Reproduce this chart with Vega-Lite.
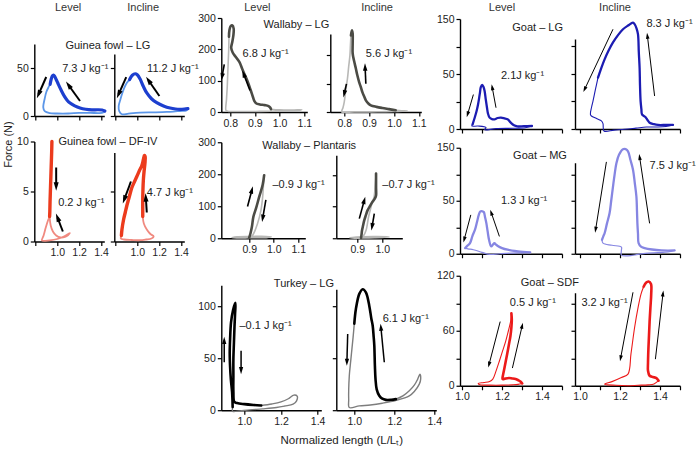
{
"$schema": "https://vega.github.io/schema/vega-lite/v6.json",
"padding": {"left": 2, "top": 1, "right": 2, "bottom": 2},
"background": "white",
"config": {
  "font": "Liberation Sans",
  "view": {"stroke": null},
  "axis": {"grid": false, "domainColor": "#000", "domainWidth": 1.4, "tickColor": "#000", "tickWidth": 1.2, "tickSize": 4, "labelFontSize": 10.5, "labelColor": "#222", "labelFont": "Liberation Sans", "titleFont": "Liberation Sans", "titleFontWeight": "normal", "titleFontSize": 11, "titleColor": "#222", "labelPadding": 2, "labelFlush": false, "labelOverlap": false},
  "text": {"font": "Liberation Sans", "fontSize": 11, "color": "#222"},
  "line": {"interpolate": "catmull-rom", "strokeCap": "round", "strokeJoin": "round"}
},
"datasets": {
"curves": [
{"p":"A1","s":"a","i":0,"x":0.935,"y":33},{"p":"A1","s":"a","i":1,"x":0.945,"y":38.5},{"p":"A1","s":"a","i":2,"x":0.955,"y":41.8},{"p":"A1","s":"a","i":3,"x":0.965,"y":42.7},{"p":"A1","s":"a","i":4,"x":0.975,"y":41.5},{"p":"A1","s":"a","i":5,"x":0.99,"y":38},{"p":"A1","s":"a","i":6,"x":1.01,"y":33},{"p":"A1","s":"a","i":7,"x":1.035,"y":27},{"p":"A1","s":"a","i":8,"x":1.063,"y":21},{"p":"A1","s":"a","i":9,"x":1.09,"y":16.5},{"p":"A1","s":"a","i":10,"x":1.117,"y":13.5},{"p":"A1","s":"a","i":11,"x":1.16,"y":10.5},{"p":"A1","s":"a","i":12,"x":1.208,"y":8.3},{"p":"A1","s":"a","i":13,"x":1.26,"y":7},{"p":"A1","s":"a","i":14,"x":1.317,"y":6.4},{"p":"A1","s":"a","i":15,"x":1.37,"y":6.5},{"p":"A1","s":"a","i":16,"x":1.41,"y":6.2},{"p":"A1","s":"a","i":17,"x":1.435,"y":5.2},
{"p":"A1","s":"b","i":0,"x":1.435,"y":5.2},{"p":"A1","s":"b","i":1,"x":1.42,"y":3.6},{"p":"A1","s":"b","i":2,"x":1.38,"y":3},{"p":"A1","s":"b","i":3,"x":1.3,"y":3.3},{"p":"A1","s":"b","i":4,"x":1.2,"y":3.2},{"p":"A1","s":"b","i":5,"x":1.1,"y":2.6},{"p":"A1","s":"b","i":6,"x":1.0,"y":2.6},{"p":"A1","s":"b","i":7,"x":0.93,"y":3},{"p":"A1","s":"b","i":8,"x":0.885,"y":5},{"p":"A1","s":"b","i":9,"x":0.872,"y":9},{"p":"A1","s":"b","i":10,"x":0.885,"y":18},{"p":"A1","s":"b","i":11,"x":0.9,"y":25},{"p":"A1","s":"b","i":12,"x":0.92,"y":30},{"p":"A1","s":"b","i":13,"x":0.935,"y":33},
{"p":"A2","s":"a","i":0,"x":0.93,"y":38},{"p":"A2","s":"a","i":1,"x":0.955,"y":42.5},{"p":"A2","s":"a","i":2,"x":0.981,"y":44},{"p":"A2","s":"a","i":3,"x":1.0,"y":43},{"p":"A2","s":"a","i":4,"x":1.026,"y":38.5},{"p":"A2","s":"a","i":5,"x":1.055,"y":31},{"p":"A2","s":"a","i":6,"x":1.087,"y":24},{"p":"A2","s":"a","i":7,"x":1.13,"y":18},{"p":"A2","s":"a","i":8,"x":1.178,"y":13.9},{"p":"A2","s":"a","i":9,"x":1.24,"y":10.5},{"p":"A2","s":"a","i":10,"x":1.3,"y":8.3},{"p":"A2","s":"a","i":11,"x":1.35,"y":7.3},{"p":"A2","s":"a","i":12,"x":1.39,"y":7},{"p":"A2","s":"a","i":13,"x":1.43,"y":7.2},{"p":"A2","s":"a","i":14,"x":1.463,"y":7.6},
{"p":"A2","s":"b","i":0,"x":1.463,"y":7.6},{"p":"A2","s":"b","i":1,"x":1.45,"y":5.8},{"p":"A2","s":"b","i":2,"x":1.39,"y":5.2},{"p":"A2","s":"b","i":3,"x":1.33,"y":4.6},{"p":"A2","s":"b","i":4,"x":1.27,"y":4.2},{"p":"A2","s":"b","i":5,"x":1.15,"y":3.8},{"p":"A2","s":"b","i":6,"x":1.026,"y":3.5},{"p":"A2","s":"b","i":7,"x":0.92,"y":2.5},{"p":"A2","s":"b","i":8,"x":0.86,"y":1.8},{"p":"A2","s":"b","i":9,"x":0.835,"y":5},{"p":"A2","s":"b","i":10,"x":0.83,"y":10.4},{"p":"A2","s":"b","i":11,"x":0.845,"y":17},{"p":"A2","s":"b","i":12,"x":0.86,"y":22.6},{"p":"A2","s":"b","i":13,"x":0.88,"y":29},{"p":"A2","s":"b","i":14,"x":0.905,"y":34.7},{"p":"A2","s":"b","i":15,"x":0.93,"y":38},
{"p":"B1","s":"a","i":0,"x":0.951,"y":10},{"p":"B1","s":"a","i":1,"x":0.949,"y":9},{"p":"B1","s":"a","i":2,"x":0.946,"y":8},{"p":"B1","s":"a","i":3,"x":0.943,"y":7},{"p":"B1","s":"a","i":4,"x":0.94,"y":6},{"p":"B1","s":"a","i":5,"x":0.937,"y":5},{"p":"B1","s":"a","i":6,"x":0.934,"y":4},{"p":"B1","s":"a","i":7,"x":0.932,"y":3},{"p":"B1","s":"a","i":8,"x":0.93,"y":2.5},
{"p":"B1","s":"b","i":0,"x":0.93,"y":2.5},{"p":"B1","s":"b","i":1,"x":0.94,"y":1.6},{"p":"B1","s":"b","i":2,"x":0.96,"y":1.0},{"p":"B1","s":"b","i":3,"x":0.99,"y":0.6},{"p":"B1","s":"b","i":4,"x":1.03,"y":0.4},{"p":"B1","s":"b","i":5,"x":1.07,"y":0.45},{"p":"B1","s":"b","i":6,"x":1.1,"y":0.65},{"p":"B1","s":"b","i":7,"x":1.115,"y":0.85},{"p":"B1","s":"b","i":8,"x":1.1,"y":0.75},{"p":"B1","s":"b","i":9,"x":1.06,"y":0.5},{"p":"B1","s":"b","i":10,"x":1.0,"y":0.25},{"p":"B1","s":"b","i":11,"x":0.93,"y":0.12},{"p":"B1","s":"b","i":12,"x":0.86,"y":0.1},{"p":"B1","s":"b","i":13,"x":0.875,"y":0.6},{"p":"B1","s":"b","i":14,"x":0.895,"y":1.4},{"p":"B1","s":"b","i":15,"x":0.915,"y":2.1},{"p":"B1","s":"b","i":16,"x":0.93,"y":2.5},
{"p":"B2","s":"a","i":0,"x":0.855,"y":0.6},{"p":"B2","s":"a","i":1,"x":0.86,"y":1.2},{"p":"B2","s":"a","i":2,"x":0.875,"y":2.2},{"p":"B2","s":"a","i":3,"x":0.89,"y":2.9},{"p":"B2","s":"a","i":4,"x":0.905,"y":3.6},{"p":"B2","s":"a","i":5,"x":0.92,"y":4.2},{"p":"B2","s":"a","i":6,"x":0.935,"y":4.8},{"p":"B2","s":"a","i":7,"x":0.951,"y":5.4},{"p":"B2","s":"a","i":8,"x":0.975,"y":6.0},{"p":"B2","s":"a","i":9,"x":0.996,"y":6.5},{"p":"B2","s":"a","i":10,"x":1.02,"y":7.1},{"p":"B2","s":"a","i":11,"x":1.042,"y":7.6},{"p":"B2","s":"a","i":12,"x":1.056,"y":8.2},{"p":"B2","s":"a","i":13,"x":1.065,"y":8.6},{"p":"B2","s":"a","i":14,"x":1.072,"y":8.5},{"p":"B2","s":"a","i":15,"x":1.07,"y":7.8},{"p":"B2","s":"a","i":16,"x":1.062,"y":7.0},{"p":"B2","s":"a","i":17,"x":1.056,"y":6.2},{"p":"B2","s":"a","i":18,"x":1.052,"y":5.2},{"p":"B2","s":"a","i":19,"x":1.05,"y":4.2},{"p":"B2","s":"a","i":20,"x":1.05,"y":3.3},{"p":"B2","s":"a","i":21,"x":1.05,"y":2.5},
{"p":"B2","s":"b","i":0,"x":1.05,"y":2.5},{"p":"B2","s":"b","i":1,"x":1.06,"y":1.8},{"p":"B2","s":"b","i":2,"x":1.087,"y":1.2},{"p":"B2","s":"b","i":3,"x":1.12,"y":0.75},{"p":"B2","s":"b","i":4,"x":1.15,"y":0.5},{"p":"B2","s":"b","i":5,"x":1.13,"y":0.3},{"p":"B2","s":"b","i":6,"x":1.08,"y":0.2},{"p":"B2","s":"b","i":7,"x":1.026,"y":0.13},{"p":"B2","s":"b","i":8,"x":0.95,"y":0.15},{"p":"B2","s":"b","i":9,"x":0.88,"y":0.2},{"p":"B2","s":"b","i":10,"x":0.85,"y":0.3},{"p":"B2","s":"b","i":11,"x":0.855,"y":0.6},
{"p":"C1","s":"a","i":0,"x":0.795,"y":240},{"p":"C1","s":"a","i":1,"x":0.797,"y":262},{"p":"C1","s":"a","i":2,"x":0.802,"y":274},{"p":"C1","s":"a","i":3,"x":0.809,"y":276},{"p":"C1","s":"a","i":4,"x":0.814,"y":266},{"p":"C1","s":"a","i":5,"x":0.813,"y":245},{"p":"C1","s":"a","i":6,"x":0.808,"y":222},{"p":"C1","s":"a","i":7,"x":0.804,"y":205},{"p":"C1","s":"a","i":8,"x":0.81,"y":190},{"p":"C1","s":"a","i":9,"x":0.822,"y":176},{"p":"C1","s":"a","i":10,"x":0.837,"y":160},{"p":"C1","s":"a","i":11,"x":0.85,"y":135},{"p":"C1","s":"a","i":12,"x":0.864,"y":110},{"p":"C1","s":"a","i":13,"x":0.875,"y":88},{"p":"C1","s":"a","i":14,"x":0.884,"y":67},{"p":"C1","s":"a","i":15,"x":0.892,"y":48},{"p":"C1","s":"a","i":16,"x":0.898,"y":35},{"p":"C1","s":"a","i":17,"x":0.906,"y":27},{"p":"C1","s":"a","i":18,"x":0.92,"y":24},{"p":"C1","s":"a","i":19,"x":0.94,"y":22},{"p":"C1","s":"a","i":20,"x":0.955,"y":19},{"p":"C1","s":"a","i":21,"x":0.962,"y":14},{"p":"C1","s":"a","i":22,"x":0.965,"y":9},
{"p":"C1","s":"b","i":0,"x":0.965,"y":9},{"p":"C1","s":"b","i":1,"x":1.0,"y":7},{"p":"C1","s":"b","i":2,"x":1.05,"y":6.5},{"p":"C1","s":"b","i":3,"x":1.09,"y":7.5},{"p":"C1","s":"b","i":4,"x":1.07,"y":4},{"p":"C1","s":"b","i":5,"x":1.0,"y":3},{"p":"C1","s":"b","i":6,"x":0.92,"y":2},{"p":"C1","s":"b","i":7,"x":0.85,"y":1.5},{"p":"C1","s":"b","i":8,"x":0.79,"y":2.5},{"p":"C1","s":"b","i":9,"x":0.783,"y":5},{"p":"C1","s":"b","i":10,"x":0.785,"y":40},{"p":"C1","s":"b","i":11,"x":0.788,"y":80},{"p":"C1","s":"b","i":12,"x":0.79,"y":120},{"p":"C1","s":"b","i":13,"x":0.792,"y":160},{"p":"C1","s":"b","i":14,"x":0.794,"y":200},{"p":"C1","s":"b","i":15,"x":0.795,"y":240},
{"p":"C2","s":"a","i":0,"x":0.827,"y":269},{"p":"C2","s":"a","i":1,"x":0.831,"y":287},{"p":"C2","s":"a","i":2,"x":0.834,"y":275},{"p":"C2","s":"a","i":3,"x":0.834,"y":240},{"p":"C2","s":"a","i":4,"x":0.834,"y":205},{"p":"C2","s":"a","i":5,"x":0.84,"y":178},{"p":"C2","s":"a","i":6,"x":0.847,"y":152},{"p":"C2","s":"a","i":7,"x":0.853,"y":128},{"p":"C2","s":"a","i":8,"x":0.86,"y":105},{"p":"C2","s":"a","i":9,"x":0.867,"y":87},{"p":"C2","s":"a","i":10,"x":0.873,"y":70},{"p":"C2","s":"a","i":11,"x":0.88,"y":55},{"p":"C2","s":"a","i":12,"x":0.887,"y":41},{"p":"C2","s":"a","i":13,"x":0.897,"y":30},{"p":"C2","s":"a","i":14,"x":0.907,"y":23.5},{"p":"C2","s":"a","i":15,"x":0.93,"y":18},{"p":"C2","s":"a","i":16,"x":0.953,"y":14},{"p":"C2","s":"a","i":17,"x":0.98,"y":10},{"p":"C2","s":"a","i":18,"x":1.007,"y":6},
{"p":"C2","s":"b","i":0,"x":1.007,"y":6},{"p":"C2","s":"b","i":1,"x":1.03,"y":4.5},{"p":"C2","s":"b","i":2,"x":1.053,"y":3.5},{"p":"C2","s":"b","i":3,"x":1.0,"y":2},{"p":"C2","s":"b","i":4,"x":0.95,"y":1},{"p":"C2","s":"b","i":5,"x":0.9,"y":0.5},{"p":"C2","s":"b","i":6,"x":0.84,"y":0.5},{"p":"C2","s":"b","i":7,"x":0.79,"y":0},{"p":"C2","s":"b","i":8,"x":0.795,"y":15},{"p":"C2","s":"b","i":9,"x":0.8,"y":35},{"p":"C2","s":"b","i":10,"x":0.806,"y":75},{"p":"C2","s":"b","i":11,"x":0.813,"y":117},{"p":"C2","s":"b","i":12,"x":0.818,"y":160},{"p":"C2","s":"b","i":13,"x":0.823,"y":199},{"p":"C2","s":"b","i":14,"x":0.825,"y":235},{"p":"C2","s":"b","i":15,"x":0.827,"y":269},
{"p":"D1","s":"a","i":0,"x":0.9,"y":2},{"p":"D1","s":"a","i":1,"x":0.905,"y":15},{"p":"D1","s":"a","i":2,"x":0.911,"y":36},{"p":"D1","s":"a","i":3,"x":0.917,"y":67},{"p":"D1","s":"a","i":4,"x":0.928,"y":94},{"p":"D1","s":"a","i":5,"x":0.941,"y":130},{"p":"D1","s":"a","i":6,"x":0.955,"y":167},{"p":"D1","s":"a","i":7,"x":0.961,"y":197},
{"p":"D1","s":"b","i":0,"x":0.961,"y":197},{"p":"D1","s":"b","i":1,"x":0.958,"y":165},{"p":"D1","s":"b","i":2,"x":0.955,"y":130},{"p":"D1","s":"b","i":3,"x":0.948,"y":88},{"p":"D1","s":"b","i":4,"x":0.934,"y":46},{"p":"D1","s":"b","i":5,"x":0.914,"y":9.5},{"p":"D1","s":"b","i":6,"x":0.9,"y":2},{"p":"D1","s":"b","i":7,"x":0.87,"y":1},{"p":"D1","s":"b","i":8,"x":0.83,"y":2},{"p":"D1","s":"b","i":9,"x":0.85,"y":4.5},{"p":"D1","s":"b","i":10,"x":0.9,"y":5.5},{"p":"D1","s":"b","i":11,"x":0.95,"y":6},{"p":"D1","s":"b","i":12,"x":0.99,"y":4.5},{"p":"D1","s":"b","i":13,"x":0.97,"y":2},{"p":"D1","s":"b","i":14,"x":0.92,"y":1.5},{"p":"D1","s":"b","i":15,"x":0.9,"y":2},
{"p":"D2","s":"a","i":0,"x":0.915,"y":1},{"p":"D2","s":"a","i":1,"x":0.917,"y":12},{"p":"D2","s":"a","i":2,"x":0.919,"y":25},{"p":"D2","s":"a","i":3,"x":0.923,"y":40},{"p":"D2","s":"a","i":4,"x":0.928,"y":57},{"p":"D2","s":"a","i":5,"x":0.934,"y":72},{"p":"D2","s":"a","i":6,"x":0.941,"y":88},{"p":"D2","s":"a","i":7,"x":0.951,"y":102},{"p":"D2","s":"a","i":8,"x":0.961,"y":115},{"p":"D2","s":"a","i":9,"x":0.97,"y":125},{"p":"D2","s":"a","i":10,"x":0.975,"y":135},{"p":"D2","s":"a","i":11,"x":0.975,"y":160},{"p":"D2","s":"a","i":12,"x":0.975,"y":185},{"p":"D2","s":"a","i":13,"x":0.975,"y":204},
{"p":"D2","s":"b","i":0,"x":0.975,"y":204},{"p":"D2","s":"b","i":1,"x":0.972,"y":170},{"p":"D2","s":"b","i":2,"x":0.967,"y":130},{"p":"D2","s":"b","i":3,"x":0.96,"y":115},{"p":"D2","s":"b","i":4,"x":0.955,"y":99},{"p":"D2","s":"b","i":5,"x":0.945,"y":67},{"p":"D2","s":"b","i":6,"x":0.935,"y":25},{"p":"D2","s":"b","i":7,"x":0.925,"y":8},{"p":"D2","s":"b","i":8,"x":0.915,"y":1},{"p":"D2","s":"b","i":9,"x":0.87,"y":2},{"p":"D2","s":"b","i":10,"x":0.92,"y":4.5},{"p":"D2","s":"b","i":11,"x":0.98,"y":5},{"p":"D2","s":"b","i":12,"x":1.028,"y":4},{"p":"D2","s":"b","i":13,"x":0.97,"y":2},{"p":"D2","s":"b","i":14,"x":0.915,"y":1},
{"p":"E1","s":"a","i":0,"x":0.936,"y":3},{"p":"E1","s":"a","i":1,"x":0.933,"y":17},{"p":"E1","s":"a","i":2,"x":0.926,"y":30},{"p":"E1","s":"a","i":3,"x":0.922,"y":42},{"p":"E1","s":"a","i":4,"x":0.92,"y":55},{"p":"E1","s":"a","i":5,"x":0.922,"y":68},{"p":"E1","s":"a","i":6,"x":0.927,"y":84},{"p":"E1","s":"a","i":7,"x":0.938,"y":96},{"p":"E1","s":"a","i":8,"x":0.951,"y":103},{"p":"E1","s":"a","i":9,"x":0.949,"y":92},{"p":"E1","s":"a","i":10,"x":0.946,"y":80},{"p":"E1","s":"a","i":11,"x":0.943,"y":65},{"p":"E1","s":"a","i":12,"x":0.94,"y":49},{"p":"E1","s":"a","i":13,"x":0.94,"y":33},{"p":"E1","s":"a","i":14,"x":0.94,"y":18},{"p":"E1","s":"a","i":15,"x":0.945,"y":8},{"p":"E1","s":"a","i":16,"x":0.96,"y":6.8},{"p":"E1","s":"a","i":17,"x":1.0,"y":5.8},{"p":"E1","s":"a","i":18,"x":1.05,"y":5},{"p":"E1","s":"a","i":19,"x":1.092,"y":4.5},
{"p":"E1","s":"b","i":0,"x":1.092,"y":4.5},{"p":"E1","s":"b","i":1,"x":1.15,"y":6},{"p":"E1","s":"b","i":2,"x":1.2,"y":8},{"p":"E1","s":"b","i":3,"x":1.24,"y":11},{"p":"E1","s":"b","i":4,"x":1.27,"y":14.5},{"p":"E1","s":"b","i":5,"x":1.288,"y":13.5},{"p":"E1","s":"b","i":6,"x":1.285,"y":9},{"p":"E1","s":"b","i":7,"x":1.266,"y":5.8},{"p":"E1","s":"b","i":8,"x":1.22,"y":4},{"p":"E1","s":"b","i":9,"x":1.175,"y":2.6},{"p":"E1","s":"b","i":10,"x":1.1,"y":1.3},{"p":"E1","s":"b","i":11,"x":1.028,"y":0.3},{"p":"E1","s":"b","i":12,"x":0.96,"y":-1},{"p":"E1","s":"b","i":13,"x":0.936,"y":-1},{"p":"E1","s":"b","i":14,"x":0.936,"y":3},
{"p":"E2","s":"a","i":0,"x":1.0,"y":83},{"p":"E2","s":"a","i":1,"x":1.008,"y":97},{"p":"E2","s":"a","i":2,"x":1.025,"y":111.5},{"p":"E2","s":"a","i":3,"x":1.042,"y":116},{"p":"E2","s":"a","i":4,"x":1.058,"y":113},{"p":"E2","s":"a","i":5,"x":1.075,"y":100},{"p":"E2","s":"a","i":6,"x":1.085,"y":88},{"p":"E2","s":"a","i":7,"x":1.092,"y":81},{"p":"E2","s":"a","i":8,"x":1.097,"y":70},{"p":"E2","s":"a","i":9,"x":1.1,"y":62},{"p":"E2","s":"a","i":10,"x":1.103,"y":42.6},{"p":"E2","s":"a","i":11,"x":1.106,"y":30},{"p":"E2","s":"a","i":12,"x":1.112,"y":20},{"p":"E2","s":"a","i":13,"x":1.125,"y":13.8},{"p":"E2","s":"a","i":14,"x":1.14,"y":11},{"p":"E2","s":"a","i":15,"x":1.158,"y":9.9},{"p":"E2","s":"a","i":16,"x":1.185,"y":10},{"p":"E2","s":"a","i":17,"x":1.208,"y":10.6},
{"p":"E2","s":"b","i":0,"x":1.208,"y":10.6},{"p":"E2","s":"b","i":1,"x":1.245,"y":14},{"p":"E2","s":"b","i":2,"x":1.275,"y":18.6},{"p":"E2","s":"b","i":3,"x":1.3,"y":24},{"p":"E2","s":"b","i":4,"x":1.317,"y":29.8},{"p":"E2","s":"b","i":5,"x":1.328,"y":34.6},{"p":"E2","s":"b","i":6,"x":1.332,"y":30},{"p":"E2","s":"b","i":7,"x":1.325,"y":25},{"p":"E2","s":"b","i":8,"x":1.3,"y":18},{"p":"E2","s":"b","i":9,"x":1.275,"y":13.8},{"p":"E2","s":"b","i":10,"x":1.21,"y":9.5},{"p":"E2","s":"b","i":11,"x":1.14,"y":6.7},{"p":"E2","s":"b","i":12,"x":1.08,"y":5},{"p":"E2","s":"b","i":13,"x":1.025,"y":4.1},{"p":"E2","s":"b","i":14,"x":0.975,"y":2.6},{"p":"E2","s":"b","i":15,"x":0.972,"y":10},{"p":"E2","s":"b","i":16,"x":0.975,"y":33},{"p":"E2","s":"b","i":17,"x":0.982,"y":47},{"p":"E2","s":"b","i":18,"x":0.988,"y":58.6},{"p":"E2","s":"b","i":19,"x":0.994,"y":70},{"p":"E2","s":"b","i":20,"x":1.0,"y":83},
{"p":"F1","s":"a","i":0,"x":1.053,"y":6.4},{"p":"F1","s":"a","i":1,"x":1.063,"y":15},{"p":"F1","s":"a","i":2,"x":1.073,"y":24.5},{"p":"F1","s":"a","i":3,"x":1.08,"y":33},{"p":"F1","s":"a","i":4,"x":1.086,"y":42.7},{"p":"F1","s":"a","i":5,"x":1.09,"y":50},{"p":"F1","s":"a","i":6,"x":1.094,"y":57},{"p":"F1","s":"a","i":7,"x":1.101,"y":60},{"p":"F1","s":"a","i":8,"x":1.108,"y":57},{"p":"F1","s":"a","i":9,"x":1.113,"y":51.8},{"p":"F1","s":"a","i":10,"x":1.119,"y":40},{"p":"F1","s":"a","i":11,"x":1.125,"y":29},{"p":"F1","s":"a","i":12,"x":1.13,"y":21},{"p":"F1","s":"a","i":13,"x":1.138,"y":15.5},{"p":"F1","s":"a","i":14,"x":1.15,"y":13.5},{"p":"F1","s":"a","i":15,"x":1.162,"y":13.2},{"p":"F1","s":"a","i":16,"x":1.178,"y":15},{"p":"F1","s":"a","i":17,"x":1.195,"y":15.5},{"p":"F1","s":"a","i":18,"x":1.212,"y":14.5},{"p":"F1","s":"a","i":19,"x":1.228,"y":13.2},{"p":"F1","s":"a","i":20,"x":1.244,"y":8.6},{"p":"F1","s":"a","i":21,"x":1.26,"y":5},{"p":"F1","s":"a","i":22,"x":1.276,"y":3.5},{"p":"F1","s":"a","i":23,"x":1.31,"y":3.8},{"p":"F1","s":"a","i":24,"x":1.35,"y":4.1},
{"p":"F1","s":"b","i":0,"x":1.35,"y":4.1},{"p":"F1","s":"b","i":1,"x":1.317,"y":1.8},{"p":"F1","s":"b","i":2,"x":1.252,"y":1},{"p":"F1","s":"b","i":3,"x":1.17,"y":0.5},{"p":"F1","s":"b","i":4,"x":1.113,"y":-1},{"p":"F1","s":"b","i":5,"x":1.12,"y":2},{"p":"F1","s":"b","i":6,"x":1.08,"y":4},{"p":"F1","s":"b","i":7,"x":1.049,"y":4},{"p":"F1","s":"b","i":8,"x":1.053,"y":6.4},
{"p":"F2","s":"a","i":0,"x":1.09,"y":70},{"p":"F2","s":"a","i":1,"x":1.105,"y":82},{"p":"F2","s":"a","i":2,"x":1.123,"y":95},{"p":"F2","s":"a","i":3,"x":1.143,"y":107},{"p":"F2","s":"a","i":4,"x":1.165,"y":118},{"p":"F2","s":"a","i":5,"x":1.19,"y":128},{"p":"F2","s":"a","i":6,"x":1.215,"y":136},{"p":"F2","s":"a","i":7,"x":1.24,"y":141},{"p":"F2","s":"a","i":8,"x":1.265,"y":145},{"p":"F2","s":"a","i":9,"x":1.273,"y":143},{"p":"F2","s":"a","i":10,"x":1.283,"y":137},{"p":"F2","s":"a","i":11,"x":1.29,"y":129},{"p":"F2","s":"a","i":12,"x":1.294,"y":105},{"p":"F2","s":"a","i":13,"x":1.298,"y":83.6},{"p":"F2","s":"a","i":14,"x":1.3,"y":60},{"p":"F2","s":"a","i":15,"x":1.303,"y":38},{"p":"F2","s":"a","i":16,"x":1.307,"y":27},{"p":"F2","s":"a","i":17,"x":1.31,"y":20},{"p":"F2","s":"a","i":18,"x":1.327,"y":16.4},{"p":"F2","s":"a","i":19,"x":1.338,"y":12},{"p":"F2","s":"a","i":20,"x":1.348,"y":8.6},{"p":"F2","s":"a","i":21,"x":1.37,"y":6.5},{"p":"F2","s":"a","i":22,"x":1.39,"y":5.5},{"p":"F2","s":"a","i":23,"x":1.43,"y":5.5},{"p":"F2","s":"a","i":24,"x":1.465,"y":5.5},
{"p":"F2","s":"b","i":0,"x":1.465,"y":5.5},{"p":"F2","s":"b","i":1,"x":1.43,"y":3.5},{"p":"F2","s":"b","i":2,"x":1.39,"y":2.7},{"p":"F2","s":"b","i":3,"x":1.332,"y":2.7},{"p":"F2","s":"b","i":4,"x":1.28,"y":1.2},{"p":"F2","s":"b","i":5,"x":1.223,"y":-0.4},{"p":"F2","s":"b","i":6,"x":1.17,"y":-1.5},{"p":"F2","s":"b","i":7,"x":1.12,"y":-2.7},{"p":"F2","s":"b","i":8,"x":1.115,"y":7.3},{"p":"F2","s":"b","i":9,"x":1.107,"y":11},{"p":"F2","s":"b","i":10,"x":1.085,"y":14},{"p":"F2","s":"b","i":11,"x":1.057,"y":17.7},{"p":"F2","s":"b","i":12,"x":1.052,"y":20},{"p":"F2","s":"b","i":13,"x":1.058,"y":30},{"p":"F2","s":"b","i":14,"x":1.065,"y":38},{"p":"F2","s":"b","i":15,"x":1.078,"y":55},{"p":"F2","s":"b","i":16,"x":1.09,"y":70},
{"p":"G1","s":"a","i":0,"x":1.016,"y":8},{"p":"G1","s":"a","i":1,"x":1.024,"y":10.4},{"p":"G1","s":"a","i":2,"x":1.04,"y":15},{"p":"G1","s":"a","i":3,"x":1.052,"y":25},{"p":"G1","s":"a","i":4,"x":1.065,"y":34},{"p":"G1","s":"a","i":5,"x":1.075,"y":45},{"p":"G1","s":"a","i":6,"x":1.084,"y":55},{"p":"G1","s":"a","i":7,"x":1.092,"y":60},{"p":"G1","s":"a","i":8,"x":1.102,"y":60},{"p":"G1","s":"a","i":9,"x":1.109,"y":59},{"p":"G1","s":"a","i":10,"x":1.115,"y":52},{"p":"G1","s":"a","i":11,"x":1.122,"y":43},{"p":"G1","s":"a","i":12,"x":1.128,"y":32},{"p":"G1","s":"a","i":13,"x":1.135,"y":20},{"p":"G1","s":"a","i":14,"x":1.146,"y":10.4},{"p":"G1","s":"a","i":15,"x":1.155,"y":13},{"p":"G1","s":"a","i":16,"x":1.162,"y":15},{"p":"G1","s":"a","i":17,"x":1.17,"y":13},{"p":"G1","s":"a","i":18,"x":1.179,"y":11},{"p":"G1","s":"a","i":19,"x":1.2,"y":8},{"p":"G1","s":"a","i":20,"x":1.228,"y":5.7},{"p":"G1","s":"a","i":21,"x":1.28,"y":3.5},{"p":"G1","s":"a","i":22,"x":1.341,"y":1.9},
{"p":"G1","s":"b","i":0,"x":1.341,"y":1.9},{"p":"G1","s":"b","i":1,"x":1.3,"y":1.3},{"p":"G1","s":"b","i":2,"x":1.252,"y":1},{"p":"G1","s":"b","i":3,"x":1.19,"y":0},{"p":"G1","s":"b","i":4,"x":1.138,"y":-1},{"p":"G1","s":"b","i":5,"x":1.1,"y":2},{"p":"G1","s":"b","i":6,"x":1.057,"y":5.7},{"p":"G1","s":"b","i":7,"x":1.03,"y":7},{"p":"G1","s":"b","i":8,"x":1.016,"y":8},
{"p":"G2","s":"a","i":0,"x":1.11,"y":19.8},{"p":"G2","s":"a","i":1,"x":1.117,"y":25},{"p":"G2","s":"a","i":2,"x":1.123,"y":29},{"p":"G2","s":"a","i":3,"x":1.135,"y":43},{"p":"G2","s":"a","i":4,"x":1.148,"y":57.6},{"p":"G2","s":"a","i":5,"x":1.156,"y":75},{"p":"G2","s":"a","i":6,"x":1.165,"y":95},{"p":"G2","s":"a","i":7,"x":1.173,"y":112},{"p":"G2","s":"a","i":8,"x":1.182,"y":128},{"p":"G2","s":"a","i":9,"x":1.195,"y":140},{"p":"G2","s":"a","i":10,"x":1.215,"y":148},{"p":"G2","s":"a","i":11,"x":1.228,"y":148},{"p":"G2","s":"a","i":12,"x":1.24,"y":145},{"p":"G2","s":"a","i":13,"x":1.252,"y":133},{"p":"G2","s":"a","i":14,"x":1.265,"y":119},{"p":"G2","s":"a","i":15,"x":1.274,"y":100},{"p":"G2","s":"a","i":16,"x":1.282,"y":81},{"p":"G2","s":"a","i":17,"x":1.285,"y":60},{"p":"G2","s":"a","i":18,"x":1.287,"y":43},{"p":"G2","s":"a","i":19,"x":1.29,"y":28},{"p":"G2","s":"a","i":20,"x":1.293,"y":15},{"p":"G2","s":"a","i":21,"x":1.305,"y":10},{"p":"G2","s":"a","i":22,"x":1.323,"y":8},{"p":"G2","s":"a","i":23,"x":1.36,"y":6},{"p":"G2","s":"a","i":24,"x":1.407,"y":4.7},{"p":"G2","s":"a","i":25,"x":1.44,"y":4.5},{"p":"G2","s":"a","i":26,"x":1.473,"y":4.7},
{"p":"G2","s":"b","i":0,"x":1.473,"y":4.7},{"p":"G2","s":"b","i":1,"x":1.44,"y":2.5},{"p":"G2","s":"b","i":2,"x":1.39,"y":1.5},{"p":"G2","s":"b","i":3,"x":1.34,"y":1},{"p":"G2","s":"b","i":4,"x":1.29,"y":-1},{"p":"G2","s":"b","i":5,"x":1.24,"y":-3},{"p":"G2","s":"b","i":6,"x":1.207,"y":-2},{"p":"G2","s":"b","i":7,"x":1.207,"y":4.7},{"p":"G2","s":"b","i":8,"x":1.207,"y":9.5},{"p":"G2","s":"b","i":9,"x":1.16,"y":12},{"p":"G2","s":"b","i":10,"x":1.115,"y":15},{"p":"G2","s":"b","i":11,"x":1.11,"y":19.8},
{"p":"H1","s":"a","i":0,"x":1.247,"y":79},{"p":"H1","s":"a","i":1,"x":1.249,"y":72},{"p":"H1","s":"a","i":2,"x":1.247,"y":63.6},{"p":"H1","s":"a","i":3,"x":1.242,"y":54},{"p":"H1","s":"a","i":4,"x":1.235,"y":45.5},{"p":"H1","s":"a","i":5,"x":1.227,"y":36},{"p":"H1","s":"a","i":6,"x":1.219,"y":27},{"p":"H1","s":"a","i":7,"x":1.212,"y":19},{"p":"H1","s":"a","i":8,"x":1.206,"y":12.7},{"p":"H1","s":"a","i":9,"x":1.203,"y":7.3},{"p":"H1","s":"a","i":10,"x":1.215,"y":7.8},{"p":"H1","s":"a","i":11,"x":1.235,"y":8.4},{"p":"H1","s":"a","i":12,"x":1.25,"y":8},{"p":"H1","s":"a","i":13,"x":1.268,"y":7.3},{"p":"H1","s":"a","i":14,"x":1.282,"y":6},{"p":"H1","s":"a","i":15,"x":1.292,"y":4.7},{"p":"H1","s":"a","i":16,"x":1.301,"y":2.5},
{"p":"H1","s":"b","i":0,"x":1.301,"y":2.5},{"p":"H1","s":"b","i":1,"x":1.28,"y":1.5},{"p":"H1","s":"b","i":2,"x":1.252,"y":1},{"p":"H1","s":"b","i":3,"x":1.21,"y":0.7},{"p":"H1","s":"b","i":4,"x":1.17,"y":0.5},{"p":"H1","s":"b","i":5,"x":1.13,"y":0.7},{"p":"H1","s":"b","i":6,"x":1.089,"y":1},{"p":"H1","s":"b","i":7,"x":1.081,"y":2.5},{"p":"H1","s":"b","i":8,"x":1.11,"y":3.5},{"p":"H1","s":"b","i":9,"x":1.138,"y":4.7},{"p":"H1","s":"b","i":10,"x":1.154,"y":7.3},{"p":"H1","s":"b","i":11,"x":1.17,"y":16},{"p":"H1","s":"b","i":12,"x":1.187,"y":27},{"p":"H1","s":"b","i":13,"x":1.203,"y":38},{"p":"H1","s":"b","i":14,"x":1.219,"y":49},{"p":"H1","s":"b","i":15,"x":1.232,"y":60},{"p":"H1","s":"b","i":16,"x":1.244,"y":71},{"p":"H1","s":"b","i":17,"x":1.247,"y":79},
{"p":"H2","s":"a","i":0,"x":1.318,"y":108},{"p":"H2","s":"a","i":1,"x":1.33,"y":112.5},{"p":"H2","s":"a","i":2,"x":1.343,"y":113.8},{"p":"H2","s":"a","i":3,"x":1.355,"y":111},{"p":"H2","s":"a","i":4,"x":1.356,"y":100},{"p":"H2","s":"a","i":5,"x":1.352,"y":85},{"p":"H2","s":"a","i":6,"x":1.348,"y":70},{"p":"H2","s":"a","i":7,"x":1.345,"y":55},{"p":"H2","s":"a","i":8,"x":1.342,"y":40},{"p":"H2","s":"a","i":9,"x":1.34,"y":25},{"p":"H2","s":"a","i":10,"x":1.34,"y":16.4},{"p":"H2","s":"a","i":11,"x":1.348,"y":10.9},{"p":"H2","s":"a","i":12,"x":1.365,"y":9.5},{"p":"H2","s":"a","i":13,"x":1.382,"y":8.4},{"p":"H2","s":"a","i":14,"x":1.393,"y":5.5},
{"p":"H2","s":"b","i":0,"x":1.393,"y":5.5},{"p":"H2","s":"b","i":1,"x":1.37,"y":2},{"p":"H2","s":"b","i":2,"x":1.34,"y":1},{"p":"H2","s":"b","i":3,"x":1.29,"y":0.5},{"p":"H2","s":"b","i":4,"x":1.24,"y":0},{"p":"H2","s":"b","i":5,"x":1.18,"y":0.5},{"p":"H2","s":"b","i":6,"x":1.123,"y":1.8},{"p":"H2","s":"b","i":7,"x":1.16,"y":4.5},{"p":"H2","s":"b","i":8,"x":1.207,"y":9},{"p":"H2","s":"b","i":9,"x":1.24,"y":12.7},{"p":"H2","s":"b","i":10,"x":1.255,"y":35},{"p":"H2","s":"b","i":11,"x":1.273,"y":63.6},{"p":"H2","s":"b","i":12,"x":1.29,"y":85},{"p":"H2","s":"b","i":13,"x":1.305,"y":100},{"p":"H2","s":"b","i":14,"x":1.318,"y":108}
],
"arrows": [
{"p":"A1","x":0.829,"y":22.6,"tx":0.899,"ty":40.6,"dir":204},{"p":"A1","x":1.102,"y":32.3,"tx":1.208,"ty":15.6,"dir":324},
{"p":"A2","x":0.829,"y":22.6,"tx":0.899,"ty":40.6,"dir":204},{"p":"A2","x":1.102,"y":37.2,"tx":1.202,"ty":20.8,"dir":325},
{"p":"B1","x":0.99,"y":5.5,"tx":0.99,"ty":7.4,"dir":180},{"p":"B1","x":1.002,"y":2.4,"tx":1.051,"ty":1.0,"dir":338},
{"p":"B2","x":0.881,"y":4.2,"tx":0.942,"ty":6.0,"dir":200},{"p":"B2","x":1.078,"y":4.4,"tx":1.087,"ty":2.9,"dir":356},
{"p":"C1","x":0.767,"y":112,"tx":0.776,"ty":152,"dir":190},{"p":"C1","x":0.854,"y":122,"tx":0.88,"ty":69,"dir":339},
{"p":"C2","x":0.8,"y":64,"tx":0.809,"ty":99,"dir":193},{"p":"C2","x":0.884,"y":158,"tx":0.887,"ty":99,"dir":358},
{"p":"D1","x":0.911,"y":151,"tx":0.893,"ty":99,"dir":15},{"p":"D1","x":0.955,"y":62,"tx":0.968,"ty":120,"dir":190},
{"p":"D2","x":0.928,"y":120,"tx":0.908,"ty":62,"dir":15},{"p":"D2","x":0.959,"y":36,"tx":0.968,"ty":78,"dir":190},
{"p":"E1","x":0.89,"y":67,"tx":0.89,"ty":46,"dir":0},{"p":"E1","x":0.982,"y":38,"tx":0.982,"ty":57,"dir":180},
{"p":"E2","x":0.963,"y":46,"tx":0.967,"ty":73,"dir":181},{"p":"E2","x":1.133,"y":79.5,"tx":1.15,"ty":46,"dir":355},
{"p":"F1","x":1.028,"y":20,"tx":1.057,"ty":47,"dir":197},{"p":"F1","x":1.151,"y":57,"tx":1.17,"ty":29,"dir":349},
{"p":"F2","x":1.023,"y":54,"tx":1.165,"ty":136,"dir":205},{"p":"F2","x":1.337,"y":127,"tx":1.373,"ty":45,"dir":353},
{"p":"G1","x":1.011,"y":20,"tx":1.044,"ty":55,"dir":195},{"p":"G1","x":1.146,"y":58.4,"tx":1.187,"ty":24.5,"dir":341},
{"p":"G2","x":1.078,"y":34,"tx":1.132,"ty":130,"dir":189},{"p":"G2","x":1.298,"y":137,"tx":1.348,"ty":43,"dir":351},
{"p":"H1","x":1.135,"y":23,"tx":1.191,"ty":70,"dir":195},{"p":"H1","x":1.301,"y":65.5,"tx":1.252,"ty":19.3,"dir":13},
{"p":"H2","x":1.203,"y":30,"tx":1.265,"ty":102,"dir":191},{"p":"H2","x":1.415,"y":100.7,"tx":1.377,"ty":29,"dir":7}
],
"labels": [
{"p":"A1","kind":"e","x":1.045,"y":49,"t":"7.3 J kg⁻¹"},
{"p":"A2","kind":"e","x":1.09,"y":49,"t":"11.2 J kg⁻¹"},
{"p":"B1","kind":"e","x":1.008,"y":3.9,"t":"0.2 J kg⁻¹"},
{"p":"B2","kind":"e","x":1.087,"y":4.9,"t":"4.7 J kg⁻¹"},
{"p":"C1","kind":"e","x":0.85,"y":184,"t":"6.8 J kg⁻¹"},
{"p":"C2","kind":"e","x":0.887,"y":204,"t":"5.6 J kg⁻¹"},
{"p":"D1","kind":"e","x":0.995,"y":167,"t":"–0.9 J kg⁻¹"},
{"p":"D2","kind":"e","x":1.0,"y":167,"t":"–0.7 J kg⁻¹"},
{"p":"E1","kind":"e","x":0.973,"y":81,"t":"–0.1 J kg⁻¹"},
{"p":"E2","kind":"e","x":1.142,"y":87.5,"t":"6.1 J kg⁻¹"},
{"p":"F1","kind":"e","x":1.195,"y":72,"t":"2.1J kg⁻¹"},
{"p":"F2","kind":"e","x":1.332,"y":142.8,"t":"8.3 J kg⁻¹"},
{"p":"G1","kind":"e","x":1.195,"y":74,"t":"1.3 J kg⁻¹"},
{"p":"G2","kind":"e","x":1.348,"y":123.5,"t":"7.5 J kg⁻¹"},
{"p":"H1","kind":"e","x":1.239,"y":89.8,"t":"0.5 J kg⁻¹"},
{"p":"H2","kind":"e","x":1.007,"y":89.8,"t":"3.2 J kg⁻¹"},
{"p":"A1","kind":"t","x":1.463,"y":73,"t":"Guinea fowl – LG"},
{"p":"B1","kind":"t","x":1.463,"y":10,"t":"Guinea fowl – DF-IV"},
{"p":"C1","kind":"t","x":1.068,"y":278,"t":"Wallaby – LG"},
{"p":"D1","kind":"t","x":1.145,"y":288,"t":"Wallaby – Plantaris"},
{"p":"E1","kind":"t","x":1.325,"y":121,"t":"Turkey – LG"},
{"p":"F1","kind":"t","x":1.378,"y":138,"t":"Goat – LG"},
{"p":"G1","kind":"t","x":1.39,"y":137.7,"t":"Goat – MG"},
{"p":"H1","kind":"t","x":1.439,"y":111.6,"t":"Goat – SDF"},
{"p":"A1","kind":"h","x":1.099,"y":109.4,"t":"Level"},
{"p":"A2","kind":"h","x":1.054,"y":109.4,"t":"Incline"},
{"p":"C1","kind":"h","x":0.91,"y":322.3,"t":"Level"},
{"p":"C2","kind":"h","x":0.932,"y":354.8,"t":"Incline"},
{"p":"F1","kind":"h","x":1.2,"y":160.9,"t":"Level"},
{"p":"F2","kind":"h","x":1.175,"y":160.9,"t":"Incline"}
]
},
"spacing": -6,
"hconcat": [
{"spacing": 0.3, "hconcat": [
 {"width": 1, "height": 252, "data": {"values": []}, "mark": {"type": "point", "opacity": 0},
  "encoding": {"y": {"field": "y", "type": "quantitative", "scale": {"domain": [0, 1]}, "axis": {"title": "Force (N)", "domain": false, "ticks": false, "labels": false, "titlePadding": 2, "titleFontSize": 11}}}},
 {"spacing": -2, "hconcat": [
 {"spacing": 13.5, "vconcat": [
  {"spacing": 10, "bounds": "flush", "hconcat": [
   {"width": 70, "height": 98,
    "encoding": {"x": {"field": "x", "type": "quantitative", "scale": {"domain": [0.79, 1.43], "nice": false, "zero": false}, "axis": {"values": [0.8, 1, 1.2, 1.4], "labels": false, "title": null}},
                 "y": {"field": "y", "type": "quantitative", "scale": {"domain": [0, 75], "range": [98, 26], "nice": false, "zero": false}, "axis": {"values": [0, 50], "title": null}}},
    "layer": [
     {"data": {"name": "curves"}, "transform": [{"filter": "datum.p=='A1' && datum.s=='b'"}], "mark": {"type": "line", "color": "#5b96e8", "strokeWidth": 1.8}, "encoding": {"order": {"field": "i", "type": "quantitative"}}},
     {"data": {"name": "curves"}, "transform": [{"filter": "datum.p=='A1' && datum.s=='a'"}], "mark": {"type": "line", "color": "#1d3fcf", "strokeWidth": 3.2}, "encoding": {"order": {"field": "i", "type": "quantitative"}}},
     {"data": {"name": "arrows"}, "transform": [{"filter": "datum.p=='A1'"}], "mark": {"type": "rule", "color": "#000", "strokeWidth": 2}, "encoding": {"x2": {"field": "tx"}, "y2": {"field": "ty"}}},
     {"data": {"name": "arrows"}, "transform": [{"filter": "datum.p=='A1'"}], "mark": {"type": "point", "shape": "M0,-1L0.6,1L-0.6,1Z", "filled": true, "color": "#000", "opacity": 1, "size": 70}, "encoding": {"angle": {"field": "dir", "type": "quantitative", "scale": null}}},
     {"data": {"name": "labels"}, "transform": [{"filter": "datum.p=='A1' && datum.kind=='e'"}], "mark": {"type": "text", "align": "left", "baseline": "middle"}, "encoding": {"text": {"field": "t"}}},
     {"data": {"name": "labels"}, "transform": [{"filter": "datum.p=='A1' && datum.kind=='t'"}], "mark": {"type": "text", "align": "center", "baseline": "middle"}, "encoding": {"text": {"field": "t"}}},
     {"data": {"name": "labels"}, "transform": [{"filter": "datum.p=='A1' && datum.kind=='h'"}], "mark": {"type": "text", "align": "center", "baseline": "alphabetic", "color": "#333"}, "encoding": {"text": {"field": "t"}}}
    ]},
   {"width": 70, "height": 98,
    "encoding": {"x": {"field": "x", "type": "quantitative", "scale": {"domain": [0.79, 1.43], "nice": false, "zero": false}, "axis": {"values": [0.8, 1, 1.2, 1.4], "labels": false, "title": null}},
                 "y": {"field": "y", "type": "quantitative", "scale": {"domain": [0, 64.6], "range": [98, 36], "nice": false, "zero": false}, "axis": {"values": [0, 50], "labels": false, "title": null}}},
    "layer": [
     {"data": {"name": "curves"}, "transform": [{"filter": "datum.p=='A2' && datum.s=='b'"}], "mark": {"type": "line", "color": "#5b96e8", "strokeWidth": 1.8}, "encoding": {"order": {"field": "i", "type": "quantitative"}}},
     {"data": {"name": "curves"}, "transform": [{"filter": "datum.p=='A2' && datum.s=='a'"}], "mark": {"type": "line", "color": "#1d3fcf", "strokeWidth": 3.2}, "encoding": {"order": {"field": "i", "type": "quantitative"}}},
     {"data": {"name": "arrows"}, "transform": [{"filter": "datum.p=='A2'"}], "mark": {"type": "rule", "color": "#000", "strokeWidth": 2}, "encoding": {"x2": {"field": "tx"}, "y2": {"field": "ty"}}},
     {"data": {"name": "arrows"}, "transform": [{"filter": "datum.p=='A2'"}], "mark": {"type": "point", "shape": "M0,-1L0.6,1L-0.6,1Z", "filled": true, "color": "#000", "opacity": 1, "size": 70}, "encoding": {"angle": {"field": "dir", "type": "quantitative", "scale": null}}},
     {"data": {"name": "labels"}, "transform": [{"filter": "datum.p=='A2' && datum.kind=='e'"}], "mark": {"type": "text", "align": "left", "baseline": "middle"}, "encoding": {"text": {"field": "t"}}},
     {"data": {"name": "labels"}, "transform": [{"filter": "datum.p=='A2' && datum.kind=='h'"}], "mark": {"type": "text", "align": "center", "baseline": "alphabetic", "color": "#333"}, "encoding": {"text": {"field": "t"}}}
    ]}
  ]},
  {"spacing": 10, "bounds": "flush", "hconcat": [
   {"width": 70, "height": 100,
    "encoding": {"x": {"field": "x", "type": "quantitative", "scale": {"domain": [0.79, 1.43], "nice": false, "zero": false}, "axis": {"values": [0.8, 1, 1.2, 1.4], "format": ".1f", "labelExpr": "datum.value < 0.9 ? '' : datum.label", "title": null}},
                 "y": {"field": "y", "type": "quantitative", "scale": {"domain": [0, 10], "nice": false, "zero": false}, "axis": {"values": [0, 5, 10], "title": null}}},
    "layer": [
     {"data": {"name": "curves"}, "transform": [{"filter": "datum.p=='B1' && datum.s=='b'"}], "mark": {"type": "line", "color": "#f08a80", "strokeWidth": 1.8}, "encoding": {"order": {"field": "i", "type": "quantitative"}}},
     {"data": {"name": "curves"}, "transform": [{"filter": "datum.p=='B1' && datum.s=='a'"}], "mark": {"type": "line", "color": "#ec3b1d", "strokeWidth": 3.4}, "encoding": {"order": {"field": "i", "type": "quantitative"}}},
     {"data": {"name": "arrows"}, "transform": [{"filter": "datum.p=='B1'"}], "mark": {"type": "rule", "color": "#000", "strokeWidth": 2}, "encoding": {"x2": {"field": "tx"}, "y2": {"field": "ty"}}},
     {"data": {"name": "arrows"}, "transform": [{"filter": "datum.p=='B1'"}], "mark": {"type": "point", "shape": "M0,-1L0.6,1L-0.6,1Z", "filled": true, "color": "#000", "opacity": 1, "size": 70}, "encoding": {"angle": {"field": "dir", "type": "quantitative", "scale": null}}},
     {"data": {"name": "labels"}, "transform": [{"filter": "datum.p=='B1' && datum.kind=='e'"}], "mark": {"type": "text", "align": "left", "baseline": "middle"}, "encoding": {"text": {"field": "t"}}},
     {"data": {"name": "labels"}, "transform": [{"filter": "datum.p=='B1' && datum.kind=='t'"}], "mark": {"type": "text", "align": "center", "baseline": "middle"}, "encoding": {"text": {"field": "t"}}}
    ]},
   {"width": 70, "height": 100,
    "encoding": {"x": {"field": "x", "type": "quantitative", "scale": {"domain": [0.79, 1.43], "nice": false, "zero": false}, "axis": {"values": [0.8, 1, 1.2, 1.4], "format": ".1f", "labelExpr": "datum.value < 0.9 ? '' : datum.label", "title": null}},
                 "y": {"field": "y", "type": "quantitative", "scale": {"domain": [0, 8.9], "range": [100, 11], "nice": false, "zero": false}, "axis": {"values": [0, 5], "labels": false, "title": null}}},
    "layer": [
     {"data": {"name": "curves"}, "transform": [{"filter": "datum.p=='B2' && datum.s=='b'"}], "mark": {"type": "line", "color": "#f08a80", "strokeWidth": 1.8}, "encoding": {"order": {"field": "i", "type": "quantitative"}}},
     {"data": {"name": "curves"}, "transform": [{"filter": "datum.p=='B2' && datum.s=='a'"}], "mark": {"type": "line", "color": "#ec3b1d", "strokeWidth": 3.4}, "encoding": {"order": {"field": "i", "type": "quantitative"}}},
     {"data": {"name": "arrows"}, "transform": [{"filter": "datum.p=='B2'"}], "mark": {"type": "rule", "color": "#000", "strokeWidth": 2}, "encoding": {"x2": {"field": "tx"}, "y2": {"field": "ty"}}},
     {"data": {"name": "arrows"}, "transform": [{"filter": "datum.p=='B2'"}], "mark": {"type": "point", "shape": "M0,-1L0.6,1L-0.6,1Z", "filled": true, "color": "#000", "opacity": 1, "size": 70}, "encoding": {"angle": {"field": "dir", "type": "quantitative", "scale": null}}},
     {"data": {"name": "labels"}, "transform": [{"filter": "datum.p=='B2' && datum.kind=='e'"}], "mark": {"type": "text", "align": "left", "baseline": "middle"}, "encoding": {"text": {"field": "t"}}}
    ]}
  ]}
 ]},
 {"spacing": 22.2, "vconcat": [
  {"spacing": 8.25, "vconcat": [
   {"spacing": 23, "bounds": "flush", "hconcat": [
    {"width": 86, "height": 94,
     "encoding": {"x": {"field": "x", "type": "quantitative", "scale": {"domain": [0.764, 1.112], "nice": false, "zero": false}, "axis": {"values": [0.8, 0.9, 1, 1.1], "format": ".1f", "title": null}},
                  "y": {"field": "y", "type": "quantitative", "scale": {"domain": [0, 300], "nice": false, "zero": false}, "axis": {"values": [0, 100, 200, 300], "title": null}}},
     "layer": [
      {"data": {"name": "curves"}, "transform": [{"filter": "datum.p=='C1' && datum.s=='b'"}], "mark": {"type": "line", "color": "#b8b8b6", "strokeWidth": 1.6}, "encoding": {"order": {"field": "i", "type": "quantitative"}}},
      {"data": {"name": "curves"}, "transform": [{"filter": "datum.p=='C1' && datum.s=='a'"}], "mark": {"type": "line", "color": "#4b4b45", "strokeWidth": 2.6}, "encoding": {"order": {"field": "i", "type": "quantitative"}}},
      {"data": {"name": "arrows"}, "transform": [{"filter": "datum.p=='C1'"}], "mark": {"type": "rule", "color": "#000", "strokeWidth": 1.6}, "encoding": {"x2": {"field": "tx"}, "y2": {"field": "ty"}}},
      {"data": {"name": "arrows"}, "transform": [{"filter": "datum.p=='C1'"}], "mark": {"type": "point", "shape": "M0,-1L0.6,1L-0.6,1Z", "filled": true, "color": "#000", "opacity": 1, "size": 55}, "encoding": {"angle": {"field": "dir", "type": "quantitative", "scale": null}}},
      {"data": {"name": "labels"}, "transform": [{"filter": "datum.p=='C1' && datum.kind=='e'"}], "mark": {"type": "text", "align": "left", "baseline": "middle"}, "encoding": {"text": {"field": "t"}}},
      {"data": {"name": "labels"}, "transform": [{"filter": "datum.p=='C1' && datum.kind=='t'"}], "mark": {"type": "text", "align": "center", "baseline": "middle"}, "encoding": {"text": {"field": "t"}}},
      {"data": {"name": "labels"}, "transform": [{"filter": "datum.p=='C1' && datum.kind=='h'"}], "mark": {"type": "text", "align": "center", "baseline": "alphabetic", "color": "#333"}, "encoding": {"text": {"field": "t"}}}
     ]},
    {"width": 91, "height": 94,
     "encoding": {"x": {"field": "x", "type": "quantitative", "scale": {"domain": [0.744, 1.11], "nice": false, "zero": false}, "axis": {"values": [0.8, 0.9, 1, 1.1], "format": ".1f", "title": null}},
                  "y": {"field": "y", "type": "quantitative", "scale": {"domain": [0, 274], "range": [94, 16], "nice": false, "zero": false}, "axis": {"values": [0, 100, 200], "labels": false, "title": null}}},
     "layer": [
      {"data": {"name": "curves"}, "transform": [{"filter": "datum.p=='C2' && datum.s=='b'"}], "mark": {"type": "line", "color": "#b8b8b6", "strokeWidth": 1.6}, "encoding": {"order": {"field": "i", "type": "quantitative"}}},
      {"data": {"name": "curves"}, "transform": [{"filter": "datum.p=='C2' && datum.s=='a'"}], "mark": {"type": "line", "color": "#4b4b45", "strokeWidth": 2.6}, "encoding": {"order": {"field": "i", "type": "quantitative"}}},
      {"data": {"name": "arrows"}, "transform": [{"filter": "datum.p=='C2'"}], "mark": {"type": "rule", "color": "#000", "strokeWidth": 1.6}, "encoding": {"x2": {"field": "tx"}, "y2": {"field": "ty"}}},
      {"data": {"name": "arrows"}, "transform": [{"filter": "datum.p=='C2'"}], "mark": {"type": "point", "shape": "M0,-1L0.6,1L-0.6,1Z", "filled": true, "color": "#000", "opacity": 1, "size": 55}, "encoding": {"angle": {"field": "dir", "type": "quantitative", "scale": null}}},
      {"data": {"name": "labels"}, "transform": [{"filter": "datum.p=='C2' && datum.kind=='e'"}], "mark": {"type": "text", "align": "left", "baseline": "middle"}, "encoding": {"text": {"field": "t"}}},
      {"data": {"name": "labels"}, "transform": [{"filter": "datum.p=='C2' && datum.kind=='h'"}], "mark": {"type": "text", "align": "center", "baseline": "alphabetic", "color": "#333"}, "encoding": {"text": {"field": "t"}}}
     ]}
   ]},
   {"spacing": 31, "bounds": "flush", "hconcat": [
    {"width": 84, "height": 96,
     "encoding": {"x": {"field": "x", "type": "quantitative", "scale": {"domain": [0.786, 1.129], "nice": false, "zero": false}, "axis": {"values": [0.9, 1, 1.1], "format": ".1f", "title": null}},
                  "y": {"field": "y", "type": "quantitative", "scale": {"domain": [0, 300], "nice": false, "zero": false}, "axis": {"values": [0, 100, 200, 300], "title": null}}},
     "layer": [
      {"data": {"name": "curves"}, "transform": [{"filter": "datum.p=='D1' && datum.s=='b'"}], "mark": {"type": "line", "color": "#b8b8b6", "strokeWidth": 1.6}, "encoding": {"order": {"field": "i", "type": "quantitative"}}},
      {"data": {"name": "curves"}, "transform": [{"filter": "datum.p=='D1' && datum.s=='a'"}], "mark": {"type": "line", "color": "#4b4b45", "strokeWidth": 2.6}, "encoding": {"order": {"field": "i", "type": "quantitative"}}},
      {"data": {"name": "arrows"}, "transform": [{"filter": "datum.p=='D1'"}], "mark": {"type": "rule", "color": "#000", "strokeWidth": 1.6}, "encoding": {"x2": {"field": "tx"}, "y2": {"field": "ty"}}},
      {"data": {"name": "arrows"}, "transform": [{"filter": "datum.p=='D1'"}], "mark": {"type": "point", "shape": "M0,-1L0.6,1L-0.6,1Z", "filled": true, "color": "#000", "opacity": 1, "size": 55}, "encoding": {"angle": {"field": "dir", "type": "quantitative", "scale": null}}},
      {"data": {"name": "labels"}, "transform": [{"filter": "datum.p=='D1' && datum.kind=='e'"}], "mark": {"type": "text", "align": "left", "baseline": "middle"}, "encoding": {"text": {"field": "t"}}},
      {"data": {"name": "labels"}, "transform": [{"filter": "datum.p=='D1' && datum.kind=='t'"}], "mark": {"type": "text", "align": "center", "baseline": "middle"}, "encoding": {"text": {"field": "t"}}}
     ]},
    {"width": 66, "height": 96,
     "encoding": {"x": {"field": "x", "type": "quantitative", "scale": {"domain": [0.816, 1.08], "nice": false, "zero": false}, "axis": {"values": [0.9, 1], "format": ".1f", "title": null}},
                  "y": {"field": "y", "type": "quantitative", "scale": {"domain": [0, 262], "range": [96, 13], "nice": false, "zero": false}, "axis": {"values": [0, 100, 200], "labels": false, "title": null}}},
     "layer": [
      {"data": {"name": "curves"}, "transform": [{"filter": "datum.p=='D2' && datum.s=='b'"}], "mark": {"type": "line", "color": "#b8b8b6", "strokeWidth": 1.6}, "encoding": {"order": {"field": "i", "type": "quantitative"}}},
      {"data": {"name": "curves"}, "transform": [{"filter": "datum.p=='D2' && datum.s=='a'"}], "mark": {"type": "line", "color": "#4b4b45", "strokeWidth": 2.6}, "encoding": {"order": {"field": "i", "type": "quantitative"}}},
      {"data": {"name": "arrows"}, "transform": [{"filter": "datum.p=='D2'"}], "mark": {"type": "rule", "color": "#000", "strokeWidth": 1.6}, "encoding": {"x2": {"field": "tx"}, "y2": {"field": "ty"}}},
      {"data": {"name": "arrows"}, "transform": [{"filter": "datum.p=='D2'"}], "mark": {"type": "point", "shape": "M0,-1L0.6,1L-0.6,1Z", "filled": true, "color": "#000", "opacity": 1, "size": 55}, "encoding": {"angle": {"field": "dir", "type": "quantitative", "scale": null}}},
      {"data": {"name": "labels"}, "transform": [{"filter": "datum.p=='D2' && datum.kind=='e'"}], "mark": {"type": "text", "align": "left", "baseline": "middle"}, "encoding": {"text": {"field": "t"}}}
     ]}
   ]}
  ]},
  {"spacing": 15, "bounds": "flush", "hconcat": [
   {"width": 100, "height": 125,
    "encoding": {"x": {"field": "x", "type": "quantitative", "scale": {"domain": [0.874, 1.42], "nice": false, "zero": false}, "axis": {"values": [1, 1.2, 1.4], "format": ".1f", "title": "Normalized length (L/Lₜ)", "titleX": 120, "titleY": 33, "titleBaseline": "alphabetic", "titleAlign": "center", "titleFontSize": 11.5}},
                 "y": {"field": "y", "type": "quantitative", "scale": {"domain": [0, 120], "nice": false, "zero": false}, "axis": {"values": [0, 50, 100], "title": null}}},
    "layer": [
     {"data": {"name": "curves"}, "transform": [{"filter": "datum.p=='E1' && datum.s=='b'"}], "mark": {"type": "line", "color": "#7d7d7d", "strokeWidth": 1.4}, "encoding": {"order": {"field": "i", "type": "quantitative"}}},
     {"data": {"name": "curves"}, "transform": [{"filter": "datum.p=='E1' && datum.s=='a'"}], "mark": {"type": "line", "color": "#000", "strokeWidth": 2.6}, "encoding": {"order": {"field": "i", "type": "quantitative"}}},
     {"data": {"name": "arrows"}, "transform": [{"filter": "datum.p=='E1'"}], "mark": {"type": "rule", "color": "#000", "strokeWidth": 1.5}, "encoding": {"x2": {"field": "tx"}, "y2": {"field": "ty"}}},
     {"data": {"name": "arrows"}, "transform": [{"filter": "datum.p=='E1'"}], "mark": {"type": "point", "shape": "M0,-1L0.6,1L-0.6,1Z", "filled": true, "color": "#000", "opacity": 1, "size": 50}, "encoding": {"angle": {"field": "dir", "type": "quantitative", "scale": null}}},
     {"data": {"name": "labels"}, "transform": [{"filter": "datum.p=='E1' && datum.kind=='e'"}], "mark": {"type": "text", "align": "left", "baseline": "middle"}, "encoding": {"text": {"field": "t"}}},
     {"data": {"name": "labels"}, "transform": [{"filter": "datum.p=='E1' && datum.kind=='t'"}], "mark": {"type": "text", "align": "center", "baseline": "middle"}, "encoding": {"text": {"field": "t"}}}
    ]},
   {"width": 100, "height": 125,
    "encoding": {"x": {"field": "x", "type": "quantitative", "scale": {"domain": [0.91, 1.41], "nice": false, "zero": false}, "axis": {"values": [1, 1.2, 1.4], "format": ".1f", "title": null}},
                 "y": {"field": "y", "type": "quantitative", "scale": {"domain": [0, 116], "range": [125, 4], "nice": false, "zero": false}, "axis": {"values": [0, 50, 100], "labels": false, "title": null}}},
    "layer": [
     {"data": {"name": "curves"}, "transform": [{"filter": "datum.p=='E2' && datum.s=='b'"}], "mark": {"type": "line", "color": "#7d7d7d", "strokeWidth": 1.4}, "encoding": {"order": {"field": "i", "type": "quantitative"}}},
     {"data": {"name": "curves"}, "transform": [{"filter": "datum.p=='E2' && datum.s=='a'"}], "mark": {"type": "line", "color": "#000", "strokeWidth": 2.6}, "encoding": {"order": {"field": "i", "type": "quantitative"}}},
     {"data": {"name": "arrows"}, "transform": [{"filter": "datum.p=='E2'"}], "mark": {"type": "rule", "color": "#000", "strokeWidth": 1.5}, "encoding": {"x2": {"field": "tx"}, "y2": {"field": "ty"}}},
     {"data": {"name": "arrows"}, "transform": [{"filter": "datum.p=='E2'"}], "mark": {"type": "point", "shape": "M0,-1L0.6,1L-0.6,1Z", "filled": true, "color": "#000", "opacity": 1, "size": 50}, "encoding": {"angle": {"field": "dir", "type": "quantitative", "scale": null}}},
     {"data": {"name": "labels"}, "transform": [{"filter": "datum.p=='E2' && datum.kind=='e'"}], "mark": {"type": "text", "align": "left", "baseline": "middle"}, "encoding": {"text": {"field": "t"}}}
    ]}
  ]}
 ]}
 ]}
]},
{"spacing": 10.75, "vconcat": [
 {"spacing": 7.75, "vconcat": [
 {"spacing": 13, "bounds": "flush", "hconcat": [
  {"width": 102, "height": 111,
   "encoding": {"x": {"field": "x", "type": "quantitative", "scale": {"domain": [0.99, 1.5], "nice": false, "zero": false}, "axis": {"values": [1, 1.1, 1.2, 1.3, 1.4, 1.5], "labels": false, "title": null}},
                "y": {"field": "y", "type": "quantitative", "scale": {"domain": [0, 150], "range": [111, 1], "nice": false, "zero": false}, "axis": {"values": [0, 37.5, 75, 112.5, 150], "labelExpr": "datum.value == 75 ? '50' : (datum.value == 0 || datum.value == 150) ? datum.label : ''", "title": null}}},
   "layer": [
    {"data": {"name": "curves"}, "transform": [{"filter": "datum.p=='F1' && datum.s=='b'"}], "mark": {"type": "line", "color": "#1c1cb2", "strokeWidth": 1.1}, "encoding": {"order": {"field": "i", "type": "quantitative"}}},
    {"data": {"name": "curves"}, "transform": [{"filter": "datum.p=='F1' && datum.s=='a'"}], "mark": {"type": "line", "color": "#1c1cb2", "strokeWidth": 2.3}, "encoding": {"order": {"field": "i", "type": "quantitative"}}},
    {"data": {"name": "arrows"}, "transform": [{"filter": "datum.p=='F1'"}], "mark": {"type": "rule", "color": "#000", "strokeWidth": 1}, "encoding": {"x2": {"field": "tx"}, "y2": {"field": "ty"}}},
    {"data": {"name": "arrows"}, "transform": [{"filter": "datum.p=='F1'"}], "mark": {"type": "point", "shape": "M0,-1L0.6,1L-0.6,1Z", "filled": true, "color": "#000", "opacity": 1, "size": 36}, "encoding": {"angle": {"field": "dir", "type": "quantitative", "scale": null}}},
    {"data": {"name": "labels"}, "transform": [{"filter": "datum.p=='F1' && datum.kind=='e'"}], "mark": {"type": "text", "align": "left", "baseline": "middle"}, "encoding": {"text": {"field": "t"}}},
    {"data": {"name": "labels"}, "transform": [{"filter": "datum.p=='F1' && datum.kind=='t'"}], "mark": {"type": "text", "align": "center", "baseline": "middle"}, "encoding": {"text": {"field": "t"}}},
    {"data": {"name": "labels"}, "transform": [{"filter": "datum.p=='F1' && datum.kind=='h'"}], "mark": {"type": "text", "align": "center", "baseline": "alphabetic", "color": "#333"}, "encoding": {"text": {"field": "t"}}}
   ]},
  {"width": 105, "height": 111,
   "encoding": {"x": {"field": "x", "type": "quantitative", "scale": {"domain": [0.975, 1.5], "nice": false, "zero": false}, "axis": {"values": [1, 1.1, 1.2, 1.3, 1.4, 1.5], "labels": false, "title": null}},
                "y": {"field": "y", "type": "quantitative", "scale": {"domain": [0, 122.7], "range": [111, 21], "nice": false, "zero": false}, "axis": {"values": [0, 37.5, 75, 112.5], "labels": false, "title": null}}},
   "layer": [
    {"data": {"name": "curves"}, "transform": [{"filter": "datum.p=='F2' && datum.s=='b'"}], "mark": {"type": "line", "color": "#1c1cb2", "strokeWidth": 1.1}, "encoding": {"order": {"field": "i", "type": "quantitative"}}},
    {"data": {"name": "curves"}, "transform": [{"filter": "datum.p=='F2' && datum.s=='a'"}], "mark": {"type": "line", "color": "#1c1cb2", "strokeWidth": 2.3}, "encoding": {"order": {"field": "i", "type": "quantitative"}}},
    {"data": {"name": "arrows"}, "transform": [{"filter": "datum.p=='F2'"}], "mark": {"type": "rule", "color": "#000", "strokeWidth": 1}, "encoding": {"x2": {"field": "tx"}, "y2": {"field": "ty"}}},
    {"data": {"name": "arrows"}, "transform": [{"filter": "datum.p=='F2'"}], "mark": {"type": "point", "shape": "M0,-1L0.6,1L-0.6,1Z", "filled": true, "color": "#000", "opacity": 1, "size": 36}, "encoding": {"angle": {"field": "dir", "type": "quantitative", "scale": null}}},
    {"data": {"name": "labels"}, "transform": [{"filter": "datum.p=='F2' && datum.kind=='e'"}], "mark": {"type": "text", "align": "left", "baseline": "middle"}, "encoding": {"text": {"field": "t"}}},
    {"data": {"name": "labels"}, "transform": [{"filter": "datum.p=='F2' && datum.kind=='h'"}], "mark": {"type": "text", "align": "center", "baseline": "alphabetic", "color": "#333"}, "encoding": {"text": {"field": "t"}}}
   ]}
 ]},
 {"spacing": 13, "bounds": "flush", "hconcat": [
  {"width": 102, "height": 106,
   "encoding": {"x": {"field": "x", "type": "quantitative", "scale": {"domain": [0.99, 1.5], "nice": false, "zero": false}, "axis": {"values": [1, 1.1, 1.2, 1.3, 1.4, 1.5], "labels": false, "title": null}},
                "y": {"field": "y", "type": "quantitative", "scale": {"domain": [0, 150], "nice": false, "zero": false}, "axis": {"values": [0, 37.5, 75, 112.5, 150], "labelExpr": "datum.value == 75 ? '50' : (datum.value == 0 || datum.value == 150) ? datum.label : ''", "title": null}}},
   "layer": [
    {"data": {"name": "curves"}, "transform": [{"filter": "datum.p=='G1' && datum.s=='b'"}], "mark": {"type": "line", "color": "#8686e2", "strokeWidth": 1.2}, "encoding": {"order": {"field": "i", "type": "quantitative"}}},
    {"data": {"name": "curves"}, "transform": [{"filter": "datum.p=='G1' && datum.s=='a'"}], "mark": {"type": "line", "color": "#8686e2", "strokeWidth": 2.3}, "encoding": {"order": {"field": "i", "type": "quantitative"}}},
    {"data": {"name": "arrows"}, "transform": [{"filter": "datum.p=='G1'"}], "mark": {"type": "rule", "color": "#000", "strokeWidth": 1}, "encoding": {"x2": {"field": "tx"}, "y2": {"field": "ty"}}},
    {"data": {"name": "arrows"}, "transform": [{"filter": "datum.p=='G1'"}], "mark": {"type": "point", "shape": "M0,-1L0.6,1L-0.6,1Z", "filled": true, "color": "#000", "opacity": 1, "size": 36}, "encoding": {"angle": {"field": "dir", "type": "quantitative", "scale": null}}},
    {"data": {"name": "labels"}, "transform": [{"filter": "datum.p=='G1' && datum.kind=='e'"}], "mark": {"type": "text", "align": "left", "baseline": "middle"}, "encoding": {"text": {"field": "t"}}},
    {"data": {"name": "labels"}, "transform": [{"filter": "datum.p=='G1' && datum.kind=='t'"}], "mark": {"type": "text", "align": "center", "baseline": "middle"}, "encoding": {"text": {"field": "t"}}}
   ]},
  {"width": 105, "height": 106,
   "encoding": {"x": {"field": "x", "type": "quantitative", "scale": {"domain": [0.975, 1.5], "nice": false, "zero": false}, "axis": {"values": [1, 1.1, 1.2, 1.3, 1.4, 1.5], "labels": false, "title": null}},
                "y": {"field": "y", "type": "quantitative", "scale": {"domain": [0, 128.8], "range": [106, 15], "nice": false, "zero": false}, "axis": {"values": [0, 37.5, 75, 112.5], "labels": false, "title": null}}},
   "layer": [
    {"data": {"name": "curves"}, "transform": [{"filter": "datum.p=='G2' && datum.s=='b'"}], "mark": {"type": "line", "color": "#8686e2", "strokeWidth": 1.2}, "encoding": {"order": {"field": "i", "type": "quantitative"}}},
    {"data": {"name": "curves"}, "transform": [{"filter": "datum.p=='G2' && datum.s=='a'"}], "mark": {"type": "line", "color": "#8686e2", "strokeWidth": 2.3}, "encoding": {"order": {"field": "i", "type": "quantitative"}}},
    {"data": {"name": "arrows"}, "transform": [{"filter": "datum.p=='G2'"}], "mark": {"type": "rule", "color": "#000", "strokeWidth": 1}, "encoding": {"x2": {"field": "tx"}, "y2": {"field": "ty"}}},
    {"data": {"name": "arrows"}, "transform": [{"filter": "datum.p=='G2'"}], "mark": {"type": "point", "shape": "M0,-1L0.6,1L-0.6,1Z", "filled": true, "color": "#000", "opacity": 1, "size": 36}, "encoding": {"angle": {"field": "dir", "type": "quantitative", "scale": null}}},
    {"data": {"name": "labels"}, "transform": [{"filter": "datum.p=='G2' && datum.kind=='e'"}], "mark": {"type": "text", "align": "left", "baseline": "middle"}, "encoding": {"text": {"field": "t"}}}
   ]}
 ]}
 ]},
 {"spacing": 13, "bounds": "flush", "hconcat": [
  {"width": 102, "height": 111,
   "encoding": {"x": {"field": "x", "type": "quantitative", "scale": {"domain": [0.99, 1.5], "nice": false, "zero": false}, "axis": {"values": [1, 1.1, 1.2, 1.3, 1.4, 1.5], "format": ".1f", "labelExpr": "(datum.value == 1 || datum.value == 1.2 || datum.value == 1.4) ? datum.label : ''", "title": null}},
                "y": {"field": "y", "type": "quantitative", "scale": {"domain": [0, 120], "range": [111, 1], "nice": false, "zero": false}, "axis": {"values": [0, 30, 60, 90, 120], "labelExpr": "datum.value % 60 == 0 ? datum.label : ''", "title": null}}},
   "layer": [
    {"data": {"name": "curves"}, "transform": [{"filter": "datum.p=='H1' && datum.s=='b'"}], "mark": {"type": "line", "color": "#ec1a1a", "strokeWidth": 1.1}, "encoding": {"order": {"field": "i", "type": "quantitative"}}},
    {"data": {"name": "curves"}, "transform": [{"filter": "datum.p=='H1' && datum.s=='a'"}], "mark": {"type": "line", "color": "#ec1a1a", "strokeWidth": 2.6}, "encoding": {"order": {"field": "i", "type": "quantitative"}}},
    {"data": {"name": "arrows"}, "transform": [{"filter": "datum.p=='H1'"}], "mark": {"type": "rule", "color": "#000", "strokeWidth": 1}, "encoding": {"x2": {"field": "tx"}, "y2": {"field": "ty"}}},
    {"data": {"name": "arrows"}, "transform": [{"filter": "datum.p=='H1'"}], "mark": {"type": "point", "shape": "M0,-1L0.6,1L-0.6,1Z", "filled": true, "color": "#000", "opacity": 1, "size": 36}, "encoding": {"angle": {"field": "dir", "type": "quantitative", "scale": null}}},
    {"data": {"name": "labels"}, "transform": [{"filter": "datum.p=='H1' && datum.kind=='e'"}], "mark": {"type": "text", "align": "left", "baseline": "middle"}, "encoding": {"text": {"field": "t"}}},
    {"data": {"name": "labels"}, "transform": [{"filter": "datum.p=='H1' && datum.kind=='t'"}], "mark": {"type": "text", "align": "center", "baseline": "middle"}, "encoding": {"text": {"field": "t"}}}
   ]},
  {"width": 105, "height": 111,
   "encoding": {"x": {"field": "x", "type": "quantitative", "scale": {"domain": [0.975, 1.5], "nice": false, "zero": false}, "axis": {"values": [1, 1.1, 1.2, 1.3, 1.4, 1.5], "format": ".1f", "labelExpr": "(datum.value == 1 || datum.value == 1.2 || datum.value == 1.4) ? datum.label : ''", "title": null}},
                "y": {"field": "y", "type": "quantitative", "scale": {"domain": [0, 101.5], "range": [111, 18], "nice": false, "zero": false}, "axis": {"values": [0, 30, 60, 90], "labels": false, "title": null}}},
   "layer": [
    {"data": {"name": "curves"}, "transform": [{"filter": "datum.p=='H2' && datum.s=='b'"}], "mark": {"type": "line", "color": "#ec1a1a", "strokeWidth": 1.1}, "encoding": {"order": {"field": "i", "type": "quantitative"}}},
    {"data": {"name": "curves"}, "transform": [{"filter": "datum.p=='H2' && datum.s=='a'"}], "mark": {"type": "line", "color": "#ec1a1a", "strokeWidth": 2.6}, "encoding": {"order": {"field": "i", "type": "quantitative"}}},
    {"data": {"name": "arrows"}, "transform": [{"filter": "datum.p=='H2'"}], "mark": {"type": "rule", "color": "#000", "strokeWidth": 1}, "encoding": {"x2": {"field": "tx"}, "y2": {"field": "ty"}}},
    {"data": {"name": "arrows"}, "transform": [{"filter": "datum.p=='H2'"}], "mark": {"type": "point", "shape": "M0,-1L0.6,1L-0.6,1Z", "filled": true, "color": "#000", "opacity": 1, "size": 36}, "encoding": {"angle": {"field": "dir", "type": "quantitative", "scale": null}}},
    {"data": {"name": "labels"}, "transform": [{"filter": "datum.p=='H2' && datum.kind=='e'"}], "mark": {"type": "text", "align": "left", "baseline": "middle"}, "encoding": {"text": {"field": "t"}}}
   ]}
 ]}
]}
]
}
